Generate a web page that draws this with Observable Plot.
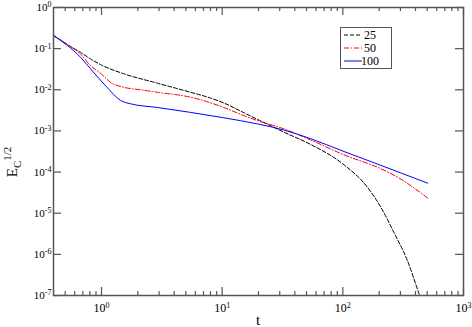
<!DOCTYPE html>
<html><head><meta charset="utf-8">
<script src="https://cdn.jsdelivr.net/npm/d3@7"></script>
<script src="https://cdn.jsdelivr.net/npm/@observablehq/plot@0.6"></script>
<style>body{margin:0;background:#fff} svg text{font-family:"Liberation Serif","Times New Roman","DejaVu Serif",serif !important}</style>
</head><body><div id="chart"></div>
<script>
// Series "25" (black dashed)
const t25 = [0.4,0.52,0.67,0.81,1.0,1.53,2.9,5.47,8.0,10.3,15.2,19.6,32.5,54.2,100,160,207,265,344,420,445];
const e25 = [0.209,0.126,0.0813,0.0562,0.0398,0.0245,0.0145,0.0087,0.0063,0.00479,0.00275,0.00191,0.000933,0.000468,0.000158,4.27e-5,1.38e-5,3.39e-6,6.9e-7,1.29e-7,7.9e-8];
// Series "50" (red dash-dot)
const t50 = [0.4,0.52,0.67,0.81,1.0,1.19,1.53,2.11,2.9,5.47,10.3,15.2,19.6,32.5,54.2,100,207,302,400,505];
const e50 = [0.209,0.126,0.0741,0.0389,0.024,0.0151,0.0115,0.01,0.0087,0.00661,0.00372,0.00234,0.00178,0.00112,0.000603,0.000269,0.00012,6.76e-5,3.89e-5,2.34e-5];
// Series "100" (blue solid)
const t100 = [0.4,0.52,0.67,0.81,1.11,1.44,1.74,2.9,5.47,10.3,19.6,32.5,54.2,100,200,302,505];
const e100 = [0.209,0.12,0.0617,0.0324,0.0115,0.0055,0.00457,0.00372,0.00282,0.00209,0.00148,0.00105,0.000646,0.000324,0.000151,9.55e-5,5.37e-5];

const seriesNames = ["25","50","100"];
const seriesColors = ["#000000","#ff0000","#0000ff"];
const seriesDash = ["4,2","5,2,1,2",null];

const xMajor = [1,10,100,1000];
const xLabels = ["10^0","10^1","10^2","10^3"];
const xMinor = [0.5,0.6,0.7,0.8,0.9,2,3,4,5,6,7,8,9,20,30,40,50,60,70,80,90,200,300,400,500,600,700,800,900];
const yMajor = [1e-7,1e-6,1e-5,1e-4,1e-3,1e-2,1e-1,1];
const yLabels = ["10^-7","10^-6","10^-5","10^-4","10^-3","10^-2","10^-1","10^0"];

const W = 472, H = 327, ML = 53, MR = 9, MT = 7, MB = 32;
const PW = W - ML - MR, PH = H - MT - MB;
const axisColor = "#555";
const serif = '"Liberation Serif","Times New Roman","DejaVu Serif",serif';

const toRows = (ts, es) => ts.map((t, i) => ({t, e: es[i]}));
const rows = [toRows(t25, e25), toRows(t50, e50), toRows(t100, e100)];

const svg = Plot.plot({
  width: W, height: H,
  marginLeft: ML, marginRight: MR, marginTop: MT, marginBottom: MB,
  style: {fontFamily: serif, fontSize: "11px", background: "#fff"},
  x: {type: "log", domain: [0.4, 1000]},
  y: {type: "log", domain: [1e-7, 1]},
  marks: [
    ...rows.map((r, i) => Plot.line(r, {x: "t", y: "e", stroke: seriesColors[i], strokeWidth: 1,
      strokeDasharray: seriesDash[i], curve: "monotone-x", clip: true})),
    Plot.ruleX(xMajor, {stroke: axisColor, strokeWidth: 1.2, insetTop: PH - 8}),
    Plot.ruleX(xMinor, {stroke: axisColor, strokeWidth: 1.2, insetTop: PH - 4}),
    Plot.ruleX(xMajor, {stroke: axisColor, strokeWidth: 1.2, insetBottom: PH - 8}),
    Plot.ruleX(xMinor, {stroke: axisColor, strokeWidth: 1.2, insetBottom: PH - 4}),
    Plot.ruleY(yMajor, {stroke: axisColor, strokeWidth: 1.2, insetRight: PW - 8}),
    Plot.ruleY(yMajor, {stroke: axisColor, strokeWidth: 1.2, insetLeft: PW - 8}),
    Plot.axisX(xMajor, {anchor: "bottom", tickSize: 0, tickPadding: 8, label: null,
      tickFormat: d => xLabels[xMajor.indexOf(d)], fontSize: 12}),
    Plot.axisY(yMajor, {anchor: "left", tickSize: 0, tickPadding: 2, label: null,
      tickFormat: d => yLabels[yMajor.indexOf(d)], fontSize: 11}),
    Plot.frame({stroke: axisColor, strokeWidth: 1.5})
  ]
});

// superscript exponents in tick labels
svg.querySelectorAll("text").forEach(t => {
  const s = t.textContent;
  if (!s.includes("^")) return;
  const [b, e] = s.split("^");
  t.textContent = "";
  const ns = "http://www.w3.org/2000/svg";
  const s1 = document.createElementNS(ns, "tspan"); s1.textContent = b; t.appendChild(s1);
  const s2 = document.createElementNS(ns, "tspan"); s2.textContent = e;
  s2.setAttribute("dy", "-0.45em"); s2.setAttribute("font-size", "8"); t.appendChild(s2);
});

const g = d3.select(svg).append("g").attr("font-family", serif).attr("fill", "#000");

// axis titles
g.append("text").attr("x", 258).attr("y", 325).attr("text-anchor", "middle").attr("font-size", 15).text("t");
const yl = g.append("text").attr("transform", "translate(17,162) rotate(-90)").attr("font-size", 15);
yl.append("tspan").text("E");
yl.append("tspan").attr("dy", 4).attr("font-size", 11).text("C");
yl.append("tspan").attr("dy", -10).attr("font-size", 11).text("1/2");

// legend
const lg = g.append("g");
lg.append("rect").attr("x", 340.5).attr("y", 27.5).attr("width", 51).attr("height", 41)
  .attr("fill", "#fff").attr("stroke", axisColor).attr("stroke-width", 1);
seriesNames.forEach((n, i) => {
  const y = 35 + i * 13;
  lg.append("line").attr("x1", 344).attr("x2", 362).attr("y1", y).attr("y2", y)
    .attr("stroke", seriesColors[i]).attr("stroke-width", 1)
    .attr("stroke-dasharray", seriesDash[i]);
  lg.append("text").attr("x", 370).attr("y", y).attr("dy", "0.35em").attr("font-size", 12).text(n);
});

document.getElementById("chart").appendChild(svg);
</script>
</body></html>
